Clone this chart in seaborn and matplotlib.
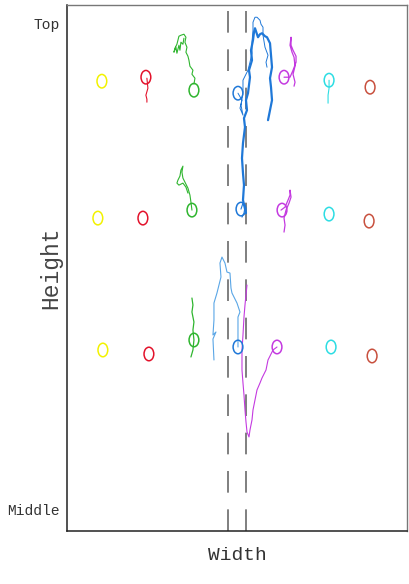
import numpy as np
import pandas as pd
import matplotlib
matplotlib.use("Agg")
import matplotlib.pyplot as plt
from matplotlib.path import Path
from matplotlib.transforms import Affine2D
import seaborn as sns

# -----------------------------
# Data (width from left edge, height measured down from the top)
# -----------------------------
GROUPS = ["yellow", "red", "green", "blue", "purple", "cyan", "brown"]
COLORS = ["#f2f200", "#e3122b", "#2fb52f", "#1f78d8", "#c43ae0", "#2ddde3", "#c8503e"]

ROW1_X = [35, 79, 127, 171, 217, 262, 303]
ROW1_Y = [76, 72, 85, 88, 72, 75, 82]
ROW2_X = [31, 76, 125, 174, 215, 262, 302]
ROW2_Y = [213, 213, 205, 204, 205, 209, 216]
ROW3_X = [36, 82, 127, 171, 210, 264, 305]
ROW3_Y = [345, 349, 335, 342, 342, 342, 351]

# dashed reference lines
REF_X = [161, 179]

# trails: (group, x list, y list, linewidth)
RED1_X = [80, 81, 79, 80, 80]
RED1_Y = [73, 83, 90, 94, 97]
GREEN1_X = [127, 128, 125, 126, 123, 122, 121, 119, 120, 118, 119, 117, 114, 112,
            111, 110, 108, 107, 109, 110, 112, 113, 114, 116, 117]
GREEN1_Y = [79, 73, 69, 65, 61, 55, 51, 47, 42, 37, 32, 29, 30, 31,
            35, 39, 43, 47, 42, 48, 40, 45, 37, 39, 33]
BLUE1_THICK_X = [179, 176, 177, 176, 175, 176, 178, 177, 180, 179, 181, 182, 183, 182,
                 185, 184, 186, 187, 188, 191, 193, 195, 198, 200, 203, 204, 205, 203,
                 204, 205, 203, 201]
BLUE1_THICK_Y = [208, 195, 180, 168, 153, 138, 122, 113, 105, 95, 88, 80, 72, 65,
                 55, 45, 35, 27, 23, 32, 29, 28, 31, 32, 38, 50, 62, 73,
                 82, 95, 105, 115]
BLUE1_THIN_X = [171, 175, 173, 176, 174, 176, 176, 179, 181, 183, 185, 185, 186, 186,
                188, 190, 193, 194, 196, 196, 198, 201, 199, 200]
BLUE1_THIN_Y = [88, 95, 103, 110, 100, 87, 75, 69, 65, 57, 48, 37, 25, 17,
                12, 12, 15, 19, 22, 30, 42, 50, 57, 62]
PURPLE1_X = [217, 223, 226, 229, 229, 226, 224, 224, 223, 225, 227, 228, 226, 228, 227]
PURPLE1_Y = [72, 72, 65, 57, 51, 45, 40, 32, 40, 47, 52, 61, 69, 77, 81]
CYAN1_X = [262, 262, 261, 261]
CYAN1_Y = [75, 83, 90, 98]
GREEN2_X = [125, 124, 123, 121, 118, 116, 115, 116, 114, 113, 111, 110, 112, 116, 119, 121]
GREEN2_Y = [205, 197, 190, 183, 177, 173, 167, 161, 165, 171, 175, 178, 180, 178, 182, 188]
BLUE2_X = [174, 176, 178, 177, 175]
BLUE2_Y = [204, 198, 202, 208, 212]
PURPLE2_X = [214, 218, 221, 223, 223, 224, 222, 219, 217, 218, 217]
PURPLE2_Y = [205, 202, 195, 190, 185, 192, 198, 205, 213, 220, 227]
BLUE3_X = [171, 171, 171, 173, 170, 165, 164, 163, 160, 158, 155, 153, 154, 150,
           147, 147, 146, 149, 146, 147]
BLUE3_Y = [342, 332, 312, 307, 298, 288, 283, 268, 267, 258, 252, 258, 272, 288,
           298, 315, 330, 327, 334, 355]
GREEN3_X = [124, 126, 127, 126, 127, 125, 126, 125]
GREEN3_Y = [352, 345, 335, 325, 317, 307, 300, 293]
PURPLE3_X = [210, 206, 201, 199, 195, 193, 190, 188, 186, 185, 183, 182, 180, 179,
             178, 177, 176, 175, 175, 176, 177, 178, 179, 180]
PURPLE3_Y = [342, 345, 355, 365, 373, 378, 385, 395, 405, 415, 425, 432, 427, 417,
             405, 390, 378, 365, 345, 330, 312, 300, 290, 280]

TRAILS = [
    ("red", RED1_X, RED1_Y, 0.8),
    ("green", GREEN1_X, GREEN1_Y, 0.8),
    ("blue", BLUE1_THIN_X, BLUE1_THIN_Y, 0.7),
    ("blue", BLUE1_THICK_X, BLUE1_THICK_Y, 1.6),
    ("purple", PURPLE1_X, PURPLE1_Y, 0.9),
    ("cyan", CYAN1_X, CYAN1_Y, 0.8),
    ("green", GREEN2_X, GREEN2_Y, 0.8),
    ("blue", BLUE2_X, BLUE2_Y, 0.8),
    ("purple", PURPLE2_X, PURPLE2_Y, 0.9),
    ("lightblue", BLUE3_X, BLUE3_Y, 0.8),
    ("green", GREEN3_X, GREEN3_Y, 0.9),
    ("purple", PURPLE3_X, PURPLE3_Y, 0.8),
]

Y_TICKS = [18, 505]
Y_TICK_LABELS = ["Top", "Middle"]

# -----------------------------
# Plot
# -----------------------------
sns.set_theme(style="white")
plt.rcParams["font.family"] = ["Liberation Mono", "DejaVu Sans Mono"]

palette = dict(zip(GROUPS, COLORS))
palette["lightblue"] = "#5aa6e6"

fig = plt.figure(figsize=(4.1, 5.84), dpi=100)
ax = fig.add_axes([0.163, 0.091, 0.830, 0.900])

for xr in REF_X:
    ax.axvline(xr, color="#6a6a6a", lw=1.2, dashes=(13, 10), zorder=1)

for grp, xs, ys, lw in TRAILS:
    sns.lineplot(x=xs, y=ys, sort=False, estimator=None, color=palette[grp],
                 lw=lw, ax=ax, zorder=2)

circles = pd.DataFrame({
    "x": ROW1_X + ROW2_X + ROW3_X,
    "y": ROW1_Y + ROW2_Y + ROW3_Y,
    "group": GROUPS * 3,
})
ellipse = Path.unit_circle().transformed(Affine2D().scale(0.72, 1.0))
sns.scatterplot(data=circles, x="x", y="y", hue="group", palette=palette,
                hue_order=GROUPS, marker=ellipse, s=95, linewidth=1.1,
                legend=False, ax=ax, zorder=3)
pts = ax.collections[-1]
fc = pts.get_facecolors()
pts.set_edgecolors(fc)
pts.set_facecolors("none")

ax.set_xlim(0, 340)
ax.set_ylim(526, 0)
ax.set_xticks([])
ax.set_yticks(Y_TICKS)
ax.set_yticklabels(Y_TICK_LABELS, fontsize=10.5)
ax.tick_params(axis="y", length=0, pad=5, colors="#333333")

ax.set_xlabel("Width", fontsize=14, color="#333333")
ax.set_ylabel("Height", fontsize=16.5, color="#444444")
ax.xaxis.set_label_coords(0.5, -0.03)
ax.yaxis.set_label_coords(-0.012, 0.5)
ax.xaxis.label.set_va("top")

for side in ["left", "bottom"]:
    ax.spines[side].set_color("#222222")
    ax.spines[side].set_linewidth(1.1)
for side in ["top", "right"]:
    ax.spines[side].set_color("#777777")
    ax.spines[side].set_linewidth(1.0)

fig.savefig("out.png", dpi=100)
